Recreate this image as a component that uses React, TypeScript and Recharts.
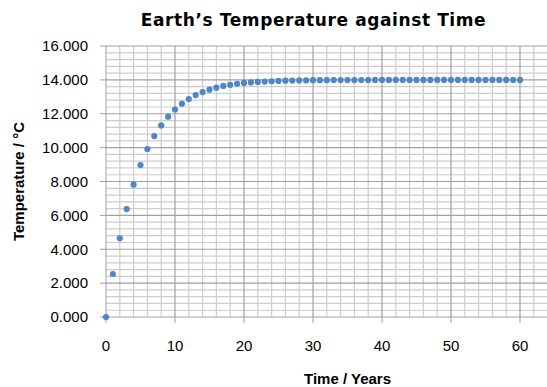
import React from 'react';
import { ScatterChart, Scatter, XAxis, YAxis, ReferenceLine } from 'recharts';

const years = [
  0, 1, 2, 3, 4, 5, 6, 7, 8, 9, 10, 11, 12, 13, 14, 15, 16, 17, 18, 19, 20,
  21, 22, 23, 24, 25, 26, 27, 28, 29, 30, 31, 32, 33, 34, 35, 36, 37, 38, 39, 40,
  41, 42, 43, 44, 45, 46, 47, 48, 49, 50, 51, 52, 53, 54, 55, 56, 57, 58, 59, 60,
];
const temperatures = [
  0, 2.54, 4.65, 6.37, 7.81, 8.97, 9.92, 10.68, 11.31, 11.83, 12.25,
  12.59, 12.87, 13.1, 13.28, 13.42, 13.54, 13.64, 13.71, 13.77, 13.82,
  13.85, 13.88, 13.9, 13.92, 13.94, 13.95, 13.96, 13.97, 13.97, 13.98,
  13.98, 13.98, 13.99, 13.99, 13.99, 13.99, 13.99, 13.99, 14.0, 14.0,
  14.0, 14.0, 14.0, 14.0, 14.0, 14.0, 14.0, 14.0, 14.0, 14.0,
  14.0, 14.0, 14.0, 14.0, 14.0, 14.0, 14.0, 14.0, 14.0, 14.0,
];
const xTicks = [0, 10, 20, 30, 40, 50, 60];
const xMajorGrid = [10, 20, 30, 40, 50, 60, 70];
const xMinorGrid = [
  2, 4, 6, 8, 12, 14, 16, 18, 22, 24, 26, 28, 32, 34, 36, 38,
  42, 44, 46, 48, 52, 54, 56, 58, 62, 64, 66, 68,
];
const yTicks = [0, 2, 4, 6, 8, 10, 12, 14, 16];
const yMajorGrid = [2, 4, 6, 8, 10, 12, 14, 16];
const yMinorGrid = [
  0.4, 0.8, 1.2, 1.6, 2.4, 2.8, 3.2, 3.6, 4.4, 4.8, 5.2, 5.6, 6.4, 6.8, 7.2, 7.6,
  8.4, 8.8, 9.2, 9.6, 10.4, 10.8, 11.2, 11.6, 12.4, 12.8, 13.2, 13.6, 14.4, 14.8,
  15.2, 15.6,
];

const data = years.map((x, i) => ({ x, y: temperatures[i] }));

const FONT = '"Liberation Sans", Arial, sans-serif';
const MAJOR = '#a0a0a0';
const MINOR = '#cdcdcd';
const DOT = '#4F86C6';

const Dot = (props: any) => {
  const { cx, cy } = props;
  if (cx == null || cy == null) return null;
  return <circle cx={cx} cy={cy} r={3.1} fill={DOT} />;
};

export default function App() {
  return (
    <div
      style={{
        position: 'absolute',
        left: 0,
        top: 0,
        width: 547,
        height: 387,
        overflow: 'hidden',
        background: '#fff',
      }}
    >
      <div
        style={{
          position: 'absolute',
          left: 0,
          top: 10,
          width: 627,
          textAlign: 'center',
          fontFamily: '"DejaVu Sans", Verdana, sans-serif',
          fontWeight: 'bold',
          fontSize: 17,
          letterSpacing: 0.6,
          lineHeight: '20px',
          color: '#000',
        }}
      >
        Earth’s Temperature against Time
      </div>
      <ScatterChart
        width={600}
        height={387}
        margin={{ top: 46, right: 11, bottom: 0, left: 0 }}
      >
        <XAxis
          type="number"
          dataKey="x"
          domain={[0, 70]}
          ticks={xTicks}
          interval={0}
          height={70}
          tickSize={6}
          tickMargin={17}
          axisLine={{ stroke: MAJOR }}
          tickLine={{ stroke: MAJOR }}
          tick={{ fill: '#000', fontSize: 15, fontFamily: FONT }}
          label={(p: any) => {
            const vb = p.viewBox || {};
            return (
              <text
                x={vb.x + vb.width / 2}
                y={384}
                textAnchor="middle"
                fontFamily={FONT}
                fontWeight="bold"
                fontSize={15}
                fill="#000"
              >
                Time / Years
              </text>
            );
          }}
        />
        <YAxis
          type="number"
          dataKey="y"
          domain={[0, 16]}
          ticks={yTicks}
          interval={0}
          width={106}
          tickSize={6}
          tickMargin={12}
          tickFormatter={(v: number) => v.toFixed(3)}
          axisLine={{ stroke: MAJOR }}
          tickLine={{ stroke: MAJOR }}
          tick={{ fill: '#000', fontSize: 15, fontFamily: FONT }}
          label={(p: any) => {
            const vb = p.viewBox || {};
            const cy = vb.y + vb.height / 2;
            return (
              <text
                x={24}
                y={cy}
                transform={`rotate(-90 24 ${cy})`}
                textAnchor="middle"
                fontFamily={FONT}
                fontWeight="bold"
                fontSize={15}
                fill="#000"
              >
                Temperature / °C
              </text>
            );
          }}
        />
        {xMinorGrid.map((v) => (
          <ReferenceLine key={'xm' + v} x={v} stroke={MINOR} strokeWidth={1.2} />
        ))}
        {yMinorGrid.map((v) => (
          <ReferenceLine key={'ym' + v} y={v} stroke={MINOR} strokeWidth={1.2} />
        ))}
        {xMajorGrid.map((v) => (
          <ReferenceLine key={'xM' + v} x={v} stroke={MAJOR} strokeWidth={1.2} />
        ))}
        {yMajorGrid.map((v) => (
          <ReferenceLine key={'yM' + v} y={v} stroke={MAJOR} strokeWidth={1.2} />
        ))}
        <Scatter data={data} shape={<Dot />} isAnimationActive={false} />
      </ScatterChart>
    </div>
  );
}
